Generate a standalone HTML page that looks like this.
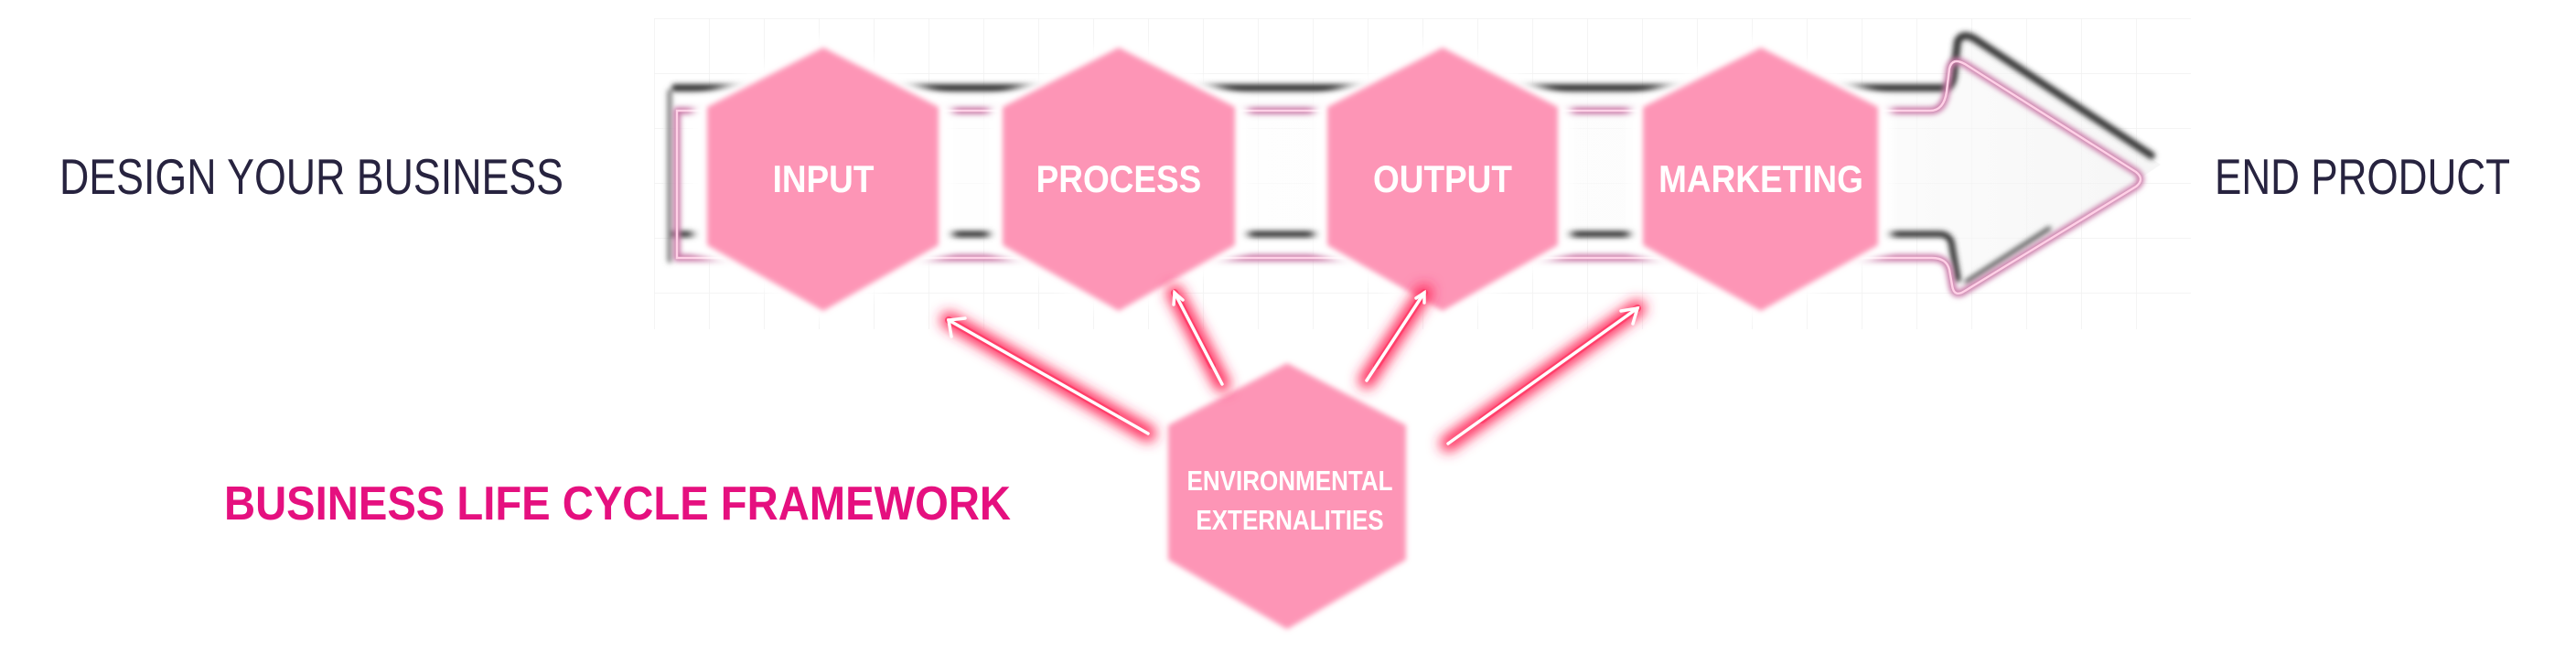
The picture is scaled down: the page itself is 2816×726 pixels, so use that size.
<!DOCTYPE html>
<html><head><meta charset="utf-8"><style>
html,body{margin:0;padding:0;background:#fff;}
svg{display:block;}
text{font-family:"Liberation Sans",sans-serif;}
</style></head><body>
<svg width="2816" height="726" viewBox="0 0 2816 726" xmlns="http://www.w3.org/2000/svg">
<defs>
<filter id="blur2" x="-20%" y="-20%" width="140%" height="140%"><feGaussianBlur stdDeviation="3"/></filter>
<filter id="blur4" x="-20%" y="-20%" width="140%" height="140%"><feGaussianBlur stdDeviation="5"/></filter>
<filter id="glow" x="-30%" y="-30%" width="160%" height="160%"><feGaussianBlur stdDeviation="7"/></filter>
<pattern id="grid" width="60" height="60" patternUnits="userSpaceOnUse" x="715" y="20">
<path d="M60 0H0V60" fill="none" stroke="#e8e8e8" stroke-width="1.5"/></pattern>
<linearGradient id="bodyg" x1="0" y1="0" x2="1" y2="0">
<stop offset="0" stop-color="#ffffff"/><stop offset="0.8" stop-color="#fafafa"/><stop offset="1" stop-color="#f0f0f0"/></linearGradient>
</defs>

<rect x="715" y="20" width="1680" height="340" fill="url(#grid)" opacity="0.6"/>

<path d="M725 96 H2130 L2145 38 L2362 180 L2145 325 L2135 256 H725 Z" fill="url(#bodyg)" opacity="0.6"/>
<g filter="url(#blur2)" fill="none" stroke="#333" stroke-linecap="round" stroke-linejoin="round">
<path d="M738 96 H2125 Q2135 96 2136 80 L2140 45 Q2145 35 2158 42 L2352 170" stroke-width="8"/>
<path d="M732 100 V285" stroke-width="5" stroke="#777"/>
<path d="M738 256 H2120 Q2133 256 2134 270 L2140 305" stroke-width="7"/>
<path d="M2150 308 L2240 250" stroke-width="5" stroke="#555"/>
</g>
<g filter="url(#blur2)" fill="none" stroke="#c97aa8" stroke-width="8" stroke-linejoin="round" stroke-linecap="round">
<path d="M740 121 H2110 Q2125 121 2128 100 L2131 75 Q2134 62 2148 70 L2335 188 Q2345 196 2335 204 L2148 318 Q2136 326 2134 312 L2131 295 Q2128 282 2112 282 H740 Z"/>
</g>
<path d="M740 121 H2110 Q2125 121 2128 100 L2131 75 Q2134 62 2148 70 L2335 188 Q2345 196 2335 204 L2148 318 Q2136 326 2134 312 L2131 295 Q2128 282 2112 282 H740 Z" fill="none" stroke="#ffd0e6" stroke-width="2.5"/>

<g fill="#fff" filter="url(#blur4)">
<polygon points="900,38 1042,112 1042,274 900,352 757,274 757,112"/>
<polygon points="1223,38 1365,112 1365,274 1223,352 1081,274 1081,112"/>
<polygon points="1577,38 1718,112 1718,274 1577,352 1436,274 1436,112"/>
<polygon points="1925,38 2068,112 2068,274 1925,352 1781,274 1781,112"/>
</g>

<g fill="#fd95b6" filter="url(#blur2)">
<polygon points="900,52 1026,117 1026,268 900,340 773,268 773,117"/>
<polygon points="1223,52 1350,117 1350,268 1223,340 1096,268 1096,117"/>
<polygon points="1577,52 1703,117 1703,268 1577,340 1451,268 1451,117"/>
<polygon points="1925,52 2053,117 2053,268 1925,340 1796,268 1796,117"/>
<polygon points="1407,397 1537,465 1537,612 1407,688 1277,612 1277,465"/>
</g>

<g stroke-linecap="round">
<g stroke="#ff2a5c" filter="url(#glow)" stroke-width="18">
<line x1="1255" y1="474" x2="1037" y2="350"/>
<line x1="1336" y1="420" x2="1284" y2="320"/>
<line x1="1494" y1="416" x2="1557" y2="320"/>
<line x1="1583" y1="485" x2="1790" y2="337"/>
</g>
<g stroke="#ff3a66" stroke-width="8" opacity="0.8">
<line x1="1220" y1="454" x2="1037" y2="350"/>
<line x1="1325" y1="400" x2="1284" y2="320"/>
<line x1="1505" y1="400" x2="1557" y2="320"/>
<line x1="1620" y1="459" x2="1790" y2="337"/>
</g>
<g stroke="#ffffff" stroke-width="3.5" fill="none">
<line x1="1255" y1="474" x2="1037" y2="350"/>
<polyline points="1040,368 1037,350 1055,348"/>
<line x1="1336" y1="420" x2="1284" y2="320"/>
<polyline points="1283,333 1284,320 1293,328"/>
<line x1="1494" y1="416" x2="1557" y2="320"/>
<polyline points="1548,326 1557,320 1557,331"/>
<line x1="1583" y1="485" x2="1790" y2="337"/>
<polyline points="1772,340 1790,337 1785,354"/>
</g>
</g>

<g fill="#fff" font-weight="bold" text-anchor="middle">
<text x="900" y="210" font-size="42" transform="translate(900 0) scale(0.88 1) translate(-900 0)">INPUT</text>
<text x="1223" y="210" font-size="42" transform="translate(1223 0) scale(0.88 1) translate(-1223 0)">PROCESS</text>
<text x="1577" y="210" font-size="42" transform="translate(1577 0) scale(0.88 1) translate(-1577 0)">OUTPUT</text>
<text x="1925" y="210" font-size="42" transform="translate(1925 0) scale(0.88 1) translate(-1925 0)">MARKETING</text>
<text x="1410" y="536" font-size="31" transform="translate(1410 0) scale(0.84 1) translate(-1410 0)">ENVIRONMENTAL</text>
<text x="1410" y="579" font-size="31" transform="translate(1410 0) scale(0.84 1) translate(-1410 0)">EXTERNALITIES</text>
</g>
<text x="65" y="212" font-size="55" fill="#27233f" textLength="551" lengthAdjust="spacingAndGlyphs">DESIGN YOUR BUSINESS</text>
<text x="2421" y="212" font-size="55" fill="#27233f" textLength="323" lengthAdjust="spacingAndGlyphs">END PRODUCT</text>
<text x="245" y="568" font-size="52" font-weight="bold" fill="#e5107f" textLength="860" lengthAdjust="spacingAndGlyphs">BUSINESS LIFE CYCLE FRAMEWORK</text>
</svg>
</body></html>
